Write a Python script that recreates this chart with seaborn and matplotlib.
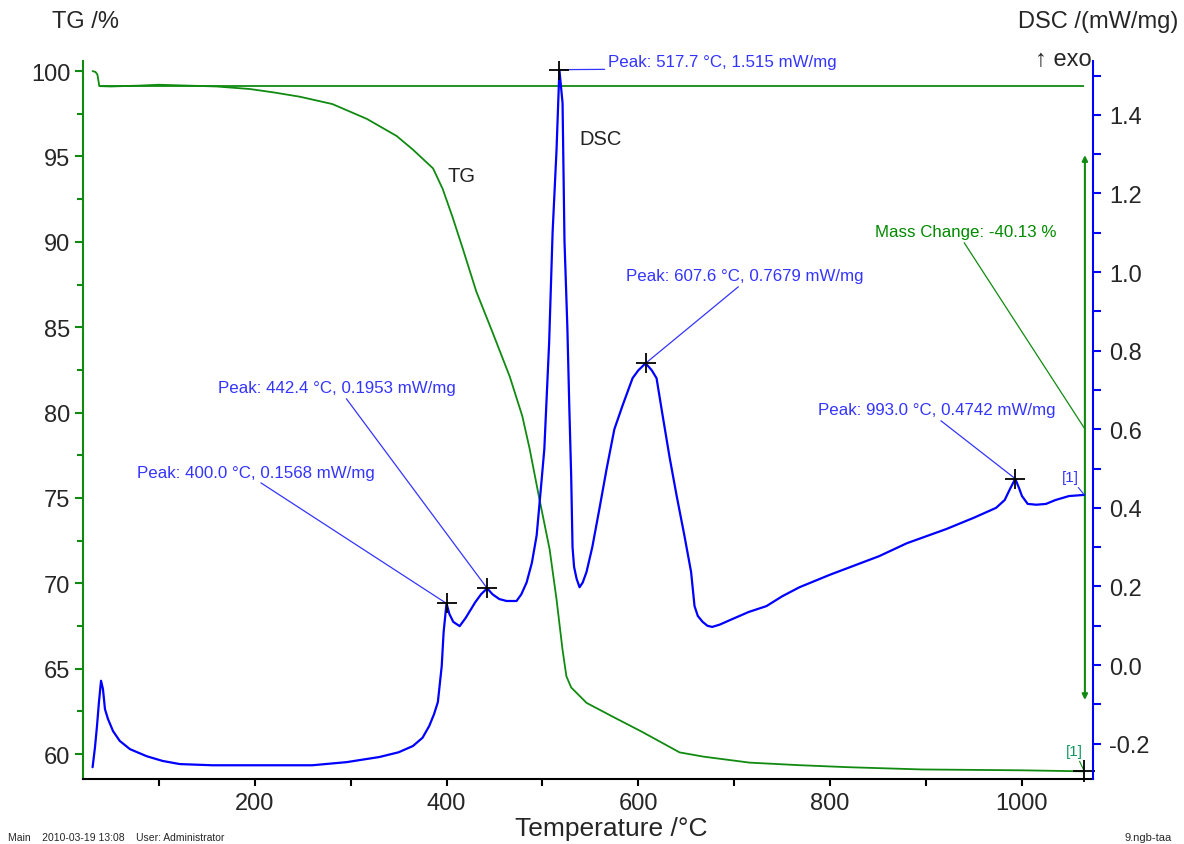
import matplotlib
matplotlib.use("Agg")
import matplotlib.pyplot as plt
import seaborn as sns
from matplotlib.ticker import MultipleLocator

# TG curve (temperature in degC, mass in %)
tg_temp = [31, 34, 36, 38, 50, 80, 100, 130, 160, 195, 220, 247, 281, 317, 348,
           365, 386, 396, 406, 417, 431, 448, 466, 479, 486.6, 497, 507.5, 514.7,
           521, 525, 530, 546, 573, 604, 643, 668, 716, 768, 820, 896, 1000, 1065]
tg_mass = [100.0, 99.95, 99.8, 99.12, 99.1, 99.15, 99.2, 99.15, 99.1, 98.95, 98.75,
           98.5, 98.07, 97.2, 96.2, 95.4, 94.3, 93.1, 91.5, 89.6, 87.1, 84.7, 82.1,
           79.8, 77.9, 74.9, 72.0, 69.07, 66.1, 64.56, 63.9, 63.0, 62.2, 61.3, 60.1,
           59.85, 59.5, 59.35, 59.23, 59.1, 59.05, 58.99]

# DSC curve (mW/mg)
dsc_temp = [31, 33.5, 35.6, 37.6, 39.8, 41.8, 43.9, 47, 52.3, 59.3, 70, 87.4, 104,
            122, 156, 260, 296, 330, 350, 365, 375, 382, 387, 391, 395, 397, 400,
            403, 407, 413.7, 420, 430, 436, 442.4, 448, 455, 462.6, 473, 478, 483.5,
            489, 494, 499, 502, 507, 510.6, 514.7, 517.7, 521, 523, 526, 528, 530,
            531.4, 533, 535.6, 538.7, 542, 546, 552, 559.6, 567, 575, 583.5, 594,
            600, 607.6, 614, 619, 625, 632.5, 640, 648, 655, 658.6, 662, 667, 672,
            677, 685, 698, 715, 733.6, 750, 768, 800, 851, 880, 921, 950, 973, 982,
            987.5, 993, 997, 1000, 1006, 1015, 1025, 1035, 1049, 1065]
dsc_val = [-0.26, -0.209, -0.155, -0.095, -0.04, -0.061, -0.112, -0.137, -0.168,
           -0.193, -0.214, -0.232, -0.244, -0.252, -0.255, -0.255, -0.247, -0.234,
           -0.222, -0.206, -0.185, -0.155, -0.125, -0.094, -0.003, 0.084, 0.157,
           0.13, 0.11, 0.099, 0.12, 0.16, 0.18, 0.1953, 0.18, 0.168, 0.163, 0.163,
           0.18, 0.21, 0.26, 0.33, 0.466, 0.55, 0.82, 1.10, 1.31, 1.515, 1.43,
           1.08, 0.86, 0.66, 0.48, 0.30, 0.25, 0.22, 0.198, 0.21, 0.237, 0.30,
           0.40, 0.50, 0.60, 0.66, 0.73, 0.75, 0.768, 0.75, 0.73, 0.64, 0.53,
           0.43, 0.33, 0.237, 0.15, 0.125, 0.11, 0.10, 0.097, 0.103, 0.117, 0.135,
           0.15, 0.175, 0.198, 0.23, 0.277, 0.31, 0.346, 0.375, 0.40, 0.42, 0.448,
           0.474, 0.45, 0.43, 0.41, 0.408, 0.41, 0.42, 0.43, 0.433]

# evaluated peaks
peak_temp = [400.0, 442.4, 517.7, 607.6, 993.0]
peak_dsc = [0.1568, 0.1953, 1.515, 0.7679, 0.4742]
mass_change = -40.13
tg_baseline = 99.12

GREEN = "#108a10"
BLUE = "#0000ff"
TXT_BLUE = "#3434ff"

sns.set_style("white")
plt.rcParams["font.family"] = ["Liberation Sans", "DejaVu Sans"]

fig = plt.figure(figsize=(11.84, 8.45), dpi=100)
ax = fig.add_axes([0.0701, 0.0769, 0.853, 0.8497])
ax2 = ax.twinx()

sns.lineplot(x=tg_temp, y=tg_mass, ax=ax, color=GREEN, lw=1.3)
ax.hlines(tg_baseline, 38, tg_temp[-1], color=GREEN, lw=1.3)
sns.lineplot(x=dsc_temp, y=dsc_val, ax=ax2, color=BLUE, lw=1.6)

ax.set_xlim(21, 1074)
ax.set_ylim(58.54, 100.59)
ax2.set_ylim(-0.29, 1.537)

# spines
for a in (ax, ax2):
    a.spines["top"].set_visible(False)
ax.spines["right"].set_visible(False)
ax2.spines["left"].set_visible(False)
ax2.spines["bottom"].set_visible(False)
ax.spines["left"].set_color(GREEN)
ax.spines["bottom"].set_color("black")
ax2.spines["right"].set_color(BLUE)
for s in ("left", "bottom"):
    ax.spines[s].set_linewidth(1.5)
ax2.spines["right"].set_linewidth(1.5)

# ticks
ax.xaxis.set_major_locator(MultipleLocator(200))
ax.xaxis.set_minor_locator(MultipleLocator(100))
ax.yaxis.set_major_locator(MultipleLocator(5))
ax.yaxis.set_minor_locator(MultipleLocator(2.5))
ax2.yaxis.set_major_locator(MultipleLocator(0.2))
ax2.yaxis.set_minor_locator(MultipleLocator(0.1))
ax2.yaxis.set_major_formatter(plt.FormatStrFormatter("%.1f"))

ax.tick_params(axis="x", which="both", direction="out", color="black",
               labelsize=17, pad=4, bottom=True, length=5, width=1.5)
ax.tick_params(axis="y", which="both", direction="out", color=GREEN,
               labelsize=17, pad=3, left=True, width=1.5)
ax.tick_params(axis="y", which="major", length=6)
ax.tick_params(axis="y", which="minor", length=4)
ax2.tick_params(axis="y", which="both", direction="out", color=BLUE,
                labelsize=17, pad=5.5, right=True, width=1.5, length=6)
ax.set_xlabel("")
ax.set_ylabel("")
ax2.set_ylabel("")

# peak markers and labels
ax2.plot(peak_temp, peak_dsc, "+", color="black", ms=15, mew=1.3, zorder=5)
ann_pos = [(77.3, 0.491, 0.5), (161.7, 0.705, 0.53), (568.3, 1.537, 0.5),
           (587.1, 0.990, 0.49), (787.3, 0.649, 0.5)]
for t, d, (tx, ty, rx) in zip(peak_temp, peak_dsc, ann_pos):
    ax2.annotate(f"Peak: {t:.1f} °C, {d:.4g} mW/mg", xy=(t, d), xytext=(tx, ty),
                 ha="left", va="center", fontsize=12.2, color=TXT_BLUE,
                 annotation_clip=False,
                 arrowprops=dict(arrowstyle="-", color=TXT_BLUE, lw=0.9,
                                 relpos=(rx, 0), shrinkA=0, shrinkB=0))

# mass change step
ax.annotate("", xy=(1065.6, 95.08), xytext=(1065.6, 63.17),
            arrowprops=dict(arrowstyle="<|-|>", color=GREEN, lw=1.5,
                            mutation_scale=8, shrinkA=0, shrinkB=0))
ax.annotate(f"Mass Change: {mass_change:.2f} %", xy=(1065.6, 79.04),
            xytext=(846.7, 90.58), ha="left", va="center", fontsize=12.2,
            color="#008a00",
            arrowprops=dict(arrowstyle="-", color=GREEN, lw=0.9,
                            relpos=(0.48, 0), shrinkA=0, shrinkB=0))
ax.plot(tg_temp[-1], tg_mass[-1], "+", color="black", ms=16, mew=1.3,
        clip_on=False, zorder=6)
ax.annotate("[1]", xy=(tg_temp[-1], tg_mass[-1]), xytext=(1055, 60.18),
            ha="center", va="center", fontsize=11, color="#109a60",
            arrowprops=dict(arrowstyle="-", color=GREEN, lw=0.8,
                            shrinkA=0, shrinkB=0))
ax2.annotate("[1]", xy=(dsc_temp[-1], dsc_val[-1]), xytext=(1050, 0.478),
             ha="center", va="center", fontsize=11, color=TXT_BLUE,
             arrowprops=dict(arrowstyle="-", color=TXT_BLUE, lw=0.8,
                             shrinkA=0, shrinkB=0))

# curve names
ax.text(401.5, 93.91, "TG", fontsize=14.5, ha="left", va="center", color="#222222")
ax2.text(539, 1.341, "DSC", fontsize=14.5, ha="left", va="center", color="#222222")

# axis titles in the Netzsch style
fig.text(0.044, 0.974, "TG /%", fontsize=17, ha="left", va="center")
fig.text(0.995, 0.974, "DSC /(mW/mg)", fontsize=17, ha="right", va="center")
fig.text(0.922, 0.929, "↑ exo", fontsize=17, ha="right", va="center")
fig.text(0.516, 0.0195, "Temperature /°C", fontsize=19, ha="center", va="center")
fig.text(0.007, 0.008, "Main    2010-03-19 13:08    User: Administrator",
         fontsize=7.5, ha="left", va="center")
fig.text(0.99, 0.008, "9.ngb-taa", fontsize=8, ha="right", va="center")

fig.savefig("out.png", dpi=100)
